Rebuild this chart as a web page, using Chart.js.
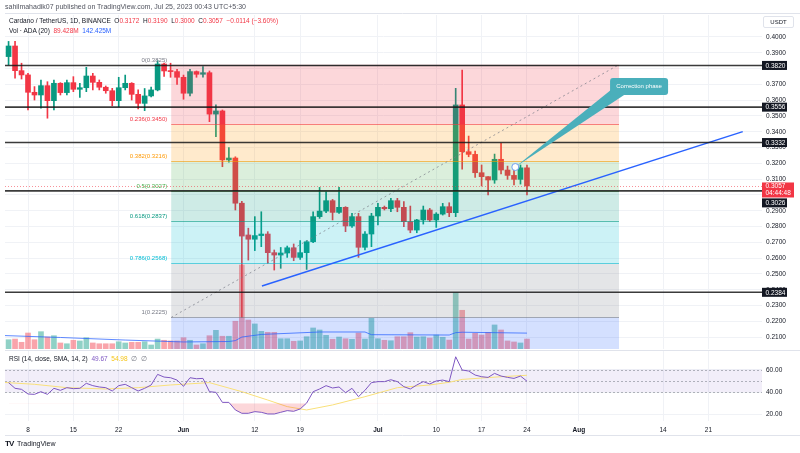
<!DOCTYPE html>
<html>
<head>
<meta charset="utf-8">
<script src="https://cdn.jsdelivr.net/npm/chart.js@4.4.0/dist/chart.umd.min.js"></script>
<style>
  body { margin: 0; background: #fff; }
  #wrap { position: relative; width: 800px; height: 453px; overflow: hidden; font-family: "Liberation Sans", Arial, sans-serif; }
  canvas { position: absolute; left: 0; }
  #cMain { top: 0; }
  #cRsi { top: 350px; }
  .t { position: absolute; white-space: nowrap; color: #131722; line-height: 1; }
  .red { color: #f23645; }
  .blue { color: #2962ff; }
  .purple { color: #7e57c2; }
  .yellow { color: #f5c518; }
  .grey { color: #787b86; }
  #usdt { position: absolute; left: 763px; top: 16px; width: 29px; height: 10px; border: 1px solid #e0e3eb; border-radius: 2px; font-size: 6px; color: #131722; text-align: center; line-height: 10px; background: #fff; }
</style>
</head>
<body>
<div id="wrap">
  <canvas id="cMain" width="800" height="350"></canvas>
  <canvas id="cRsi" width="800" height="103"></canvas>

  <div class="t" style="left:5px;top:3px;font-size:7px;color:#50535e">sahilmahadik07 published on TradingView.com, Jul 25, 2023 00:43 UTC+5:30</div>
  <div class="t" style="left:9px;top:18px;font-size:6.5px">Cardano / TetherUS, 1D, BINANCE&nbsp; O<span class="red">0.3172</span>&nbsp; H<span class="red">0.3190</span>&nbsp; L<span class="red">0.3000</span>&nbsp; C<span class="red">0.3057</span>&nbsp; <span class="red">−0.0114 (−3.60%)</span></div>
  <div class="t" style="left:9px;top:28px;font-size:6.5px">Vol · ADA (20)&nbsp; <span class="red">89.428M</span>&nbsp; <span class="blue">142.425M</span></div>
  <div id="usdt">USDT</div>
  <div class="t" style="left:9px;top:356px;font-size:6.5px">RSI (14, close, SMA, 14, 2)&nbsp; <span class="purple">49.67</span>&nbsp; <span class="yellow">54.98</span>&nbsp; <span class="grey">∅&nbsp; ∅</span></div>
  <div class="t" style="left:5px;top:440px;font-size:7px;color:#131722"><b style="font-size:8px;letter-spacing:-1px">TV</b>&nbsp; TradingView</div>
</div>

<script>
const FONT = '"Liberation Sans", Arial, sans-serif'
const GREEN = '#089981'
const RED = '#f23645'

// candles: May 5 (day -3) to Jul 24 (day 77), day 0 = May 8
const firstDay = -3
const opens = [
  0.3876, 0.3943, 0.3787, 0.3760, 0.3650, 0.3633, 0.3692, 0.3597, 0.3707, 0.3648,
  0.3711, 0.3669, 0.3679, 0.3753, 0.3713, 0.3682, 0.3660, 0.3597, 0.3679, 0.3707,
  0.3637, 0.3580, 0.3627, 0.3665, 0.3829, 0.3785, 0.3781, 0.3745, 0.3644, 0.3781,
  0.3764, 0.3774, 0.3512, 0.3532, 0.3222, 0.3234, 0.2948, 0.2747, 0.2720, 0.2743,
  0.2753, 0.2635, 0.2620, 0.2633, 0.2666, 0.2605, 0.2635, 0.2704, 0.2863, 0.2898,
  0.2964, 0.2890, 0.2922, 0.2804, 0.2863, 0.2669, 0.2753, 0.2867, 0.2922, 0.2913,
  0.2964, 0.2922, 0.2831, 0.2778, 0.2842, 0.2905, 0.2842, 0.2879, 0.2926, 0.2888,
  0.3570, 0.3274, 0.3257, 0.3141, 0.3116, 0.3095, 0.3226, 0.3158, 0.3124, 0.3099,
  0.3172
]
const highs = [
  0.3972, 0.3972, 0.3834, 0.3770, 0.3686, 0.3728, 0.3717, 0.3728, 0.3711, 0.3728,
  0.3749, 0.3707, 0.3808, 0.3770, 0.3728, 0.3690, 0.3675, 0.3745, 0.3759, 0.3711,
  0.3665, 0.3674, 0.3683, 0.3850, 0.3835, 0.3834, 0.3795, 0.3759, 0.3795, 0.3785,
  0.3812, 0.3785, 0.3570, 0.3538, 0.3300, 0.3242, 0.2960, 0.2790, 0.2863, 0.2894,
  0.2768, 0.2652, 0.2668, 0.2677, 0.2690, 0.2712, 0.2711, 0.2894, 0.3048, 0.3021,
  0.2972, 0.3048, 0.2926, 0.2884, 0.2884, 0.2768, 0.2884, 0.2947, 0.2930, 0.2979,
  0.2979, 0.2958, 0.2930, 0.2846, 0.2930, 0.2915, 0.2888, 0.2947, 0.2951, 0.3675,
  0.3791, 0.3373, 0.3278, 0.3190, 0.3116, 0.3259, 0.3327, 0.3183, 0.3162, 0.3190,
  0.3190
]
const lows = [
  0.3823, 0.3739, 0.3734, 0.3538, 0.3601, 0.3549, 0.3486, 0.3538, 0.3633, 0.3633,
  0.3654, 0.3618, 0.3654, 0.3665, 0.3665, 0.3644, 0.3565, 0.3559, 0.3665, 0.3601,
  0.3544, 0.3534, 0.3620, 0.3659, 0.3750, 0.3745, 0.3700, 0.3606, 0.3627, 0.3745,
  0.3745, 0.3464, 0.3369, 0.3179, 0.3208, 0.2905, 0.2225, 0.2588, 0.2648, 0.2673,
  0.2568, 0.2525, 0.2536, 0.2605, 0.2584, 0.2592, 0.2529, 0.2698, 0.2852, 0.2888,
  0.2842, 0.2884, 0.2768, 0.2795, 0.2605, 0.2652, 0.2673, 0.2810, 0.2905, 0.2894,
  0.2894, 0.2799, 0.2761, 0.2761, 0.2816, 0.2831, 0.2795, 0.2873, 0.2863, 0.2863,
  0.3163, 0.3242, 0.3112, 0.3057, 0.3000, 0.3074, 0.3133, 0.3099, 0.3063, 0.3069,
  0.3000
]
const closes = [
  0.3943, 0.3787, 0.3760, 0.3650, 0.3633, 0.3692, 0.3597, 0.3707, 0.3648, 0.3711,
  0.3669, 0.3679, 0.3753, 0.3713, 0.3682, 0.3660, 0.3597, 0.3679, 0.3707, 0.3637,
  0.3580, 0.3627, 0.3665, 0.3829, 0.3785, 0.3781, 0.3745, 0.3644, 0.3781, 0.3764,
  0.3774, 0.3512, 0.3532, 0.3222, 0.3234, 0.2948, 0.2740, 0.2720, 0.2743, 0.2753,
  0.2635, 0.2620, 0.2633, 0.2666, 0.2605, 0.2635, 0.2704, 0.2863, 0.2898, 0.2964,
  0.2890, 0.2922, 0.2804, 0.2863, 0.2669, 0.2753, 0.2867, 0.2922, 0.2913, 0.2964,
  0.2922, 0.2831, 0.2778, 0.2842, 0.2905, 0.2842, 0.2879, 0.2926, 0.2888, 0.3570,
  0.3274, 0.3257, 0.3141, 0.3116, 0.3095, 0.3226, 0.3158, 0.3124, 0.3099, 0.3172,
  0.3057
]
// volume in millions ADA
const volumes = [
  83, 89, 60, 143, 83, 155, 107, 119, 54, 47,
  78, 72, 101, 54, 47, 47, 47, 65, 54, 60,
  60, 65, 36, 89, 78, 72, 72, 101, 78, 36,
  47, 119, 167, 114, 114, 248, 751, 259, 224, 158,
  149, 149, 92, 92, 69, 72, 110, 188, 170, 122,
  87, 107, 92, 87, 143, 89, 274, 92, 78, 74,
  110, 110, 146, 107, 110, 98, 125, 105, 80, 503,
  346, 89, 140, 125, 149, 215, 170, 72, 63, 54,
  89
]
const volMaDays = [-4, 5, 15, 24, 31, 32, 33, 36, 45, 52, 53, 65, 66, 67, 77]
const volMaVals = [121, 103, 80, 63, 67, 75, 107, 130, 152, 152, 128, 125, 146, 150, 142]

const rsi = [
  48.4, 43.3, 42.4, 38.2, 37.9, 40.3, 37.9, 43.3, 41.5, 43.9,
  43.0, 43.3, 47.8, 45.7, 44.5, 43.9, 40.9, 45.7, 46.9, 43.9,
  40.9, 43.3, 46.3, 55.8, 53.4, 52.8, 50.7, 45.1, 52.8, 51.9,
  52.2, 40.3, 39.7, 30.7, 30.7, 23.9, 20.9, 20.9, 22.4, 21.8,
  20.3, 20.3, 21.8, 23.3, 22.7, 24.8, 30.1, 40.3, 42.7, 45.7,
  43.6, 44.5, 39.4, 43.3, 35.8, 41.5, 48.4, 49.3, 49.3, 51.0,
  49.3, 44.8, 42.7, 46.3, 49.3, 47.2, 49.9, 50.7, 49.3, 71.6,
  59.7, 58.8, 55.2, 53.7, 53.1, 56.7, 54.3, 53.1, 52.2, 54.3,
  49.7
]
const smaDays = [-4, 1, 6, 12, 17, 22, 28, 33, 37, 40, 43, 47, 52, 57, 62, 65, 67, 73, 77]
const smaVals = [48.7, 46.9, 43.9, 42.7, 43.9, 46.3, 48.4, 40.3, 32.8, 26.9, 23.9, 28.4, 35.8, 43.9, 46.3, 48.7, 51.3, 53.7, 55.0]

// time axis
const tickDays = [0, 7, 14, 24, 35, 42, 54, 63, 70, 77, 85, 98, 105]
const tickLabels = ['8', '15', '22', 'Jun', '12', '19', 'Jul', '10', '17', '24', 'Aug', '14', '21']
const monthLabels = ['Jun', 'Jul', 'Aug']
const priceTicks = [0.21, 0.22, 0.23, 0.24, 0.25, 0.26, 0.27, 0.28, 0.29, 0.30, 0.31, 0.32, 0.33, 0.34, 0.35, 0.36, 0.37, 0.38, 0.39, 0.40]
const rsiTicks = [20, 40, 60]
const rsiBand = [40, 50, 60]

// drawings
const hLines = [0.3820, 0.3556, 0.3332, 0.3026, 0.2384]
const lastPrice = 0.3057
const trendDays = [36.1, 110.3]
const trendVals = [0.2424, 0.3401]
const fibDays = [22.1, 91.2]
const fibLevels = ['0', '0.236', '0.382', '0.5', '0.618', '0.786', '1', '1.618']
const fibPrices = [0.3825, 0.3450, 0.3216, 0.3027, 0.2837, 0.2568, 0.2225, 0.1236]
const fibColors = [[120, 123, 134], [242, 54, 69], [255, 152, 0], [76, 175, 80], [8, 153, 129], [0, 188, 212], [120, 123, 134], [41, 98, 255]]
const calloutPoint = [75.2, 0.3177]
const calloutBox = [94.3, 0.3687]

const xMin = -3.55
const xMax = 113.27
const priceMin = 0.20253
const priceMax = 0.41392
const volMax = 2986
const rsiMin = 14.0
const rsiMax = 77.67

const days = opens.map((_, i) => firstDay + i)
const isUp = opens.map((o, i) => closes[i] >= o)
const rgba = (c, a) => `rgba(${c[0]},${c[1]},${c[2]},${a})`

function drawFib(chart) {
    const { ctx, chartArea: area } = chart
    const xs = chart.scales.x, ys = chart.scales.y
    const x0 = xs.getPixelForValue(fibDays[0]), x1 = xs.getPixelForValue(fibDays[1])
    ctx.save()
    for (let i = 1; i < fibPrices.length; i++) {
        const yTop = ys.getPixelForValue(fibPrices[i - 1])
        const yBot = Math.min(ys.getPixelForValue(fibPrices[i]), area.bottom)
        ctx.fillStyle = rgba(fibColors[i], 0.2)
        ctx.fillRect(x0, yTop, x1 - x0, yBot - yTop)
    }
    ctx.font = '6px ' + FONT
    ctx.textAlign = 'right'
    ctx.textBaseline = 'middle'
    for (let i = 0; i < fibPrices.length; i++) {
        const y = Math.round(ys.getPixelForValue(fibPrices[i])) + 0.5
        if (y > area.bottom) continue
        ctx.strokeStyle = rgba(fibColors[i], 0.6)
        ctx.lineWidth = 1
        ctx.beginPath(); ctx.moveTo(x0, y); ctx.lineTo(x1, y); ctx.stroke()
        ctx.fillStyle = rgba(fibColors[i], 1)
        ctx.fillText(fibLevels[i] + '(' + fibPrices[i].toFixed(4) + ')', x0 - 4, y - 5.5)
    }
    ctx.restore()
}

const mainPlugin = {
    id: 'mainOverlays',
    beforeDatasetDraw(chart, args) {
        if (chart.data.datasets[args.index].label === 'fibTrend') drawFib(chart)
    },
    afterDatasetsDraw(chart) {
        const { ctx, chartArea: area } = chart
        const xs = chart.scales.x, ys = chart.scales.y
        ctx.save()
        // current price line
        const yp = Math.round(ys.getPixelForValue(lastPrice)) + 0.5
        ctx.strokeStyle = 'rgba(242,54,69,0.55)'
        ctx.setLineDash([1, 2])
        ctx.beginPath(); ctx.moveTo(area.left, yp); ctx.lineTo(area.right, yp); ctx.stroke()
        ctx.setLineDash([])
        // horizontal levels
        ctx.strokeStyle = 'rgba(25,25,25,0.85)'
        ctx.lineWidth = 1.6
        hLines.forEach(v => {
            const y = ys.getPixelForValue(v)
            ctx.beginPath(); ctx.moveTo(area.left, y); ctx.lineTo(area.right, y); ctx.stroke()
        })
        // callout
        const ax = xs.getPixelForValue(calloutPoint[0]), ay = ys.getPixelForValue(calloutPoint[1])
        const bx = xs.getPixelForValue(calloutBox[0]), by = ys.getPixelForValue(calloutBox[1])
        const w = 58, h = 17, left = bx - w / 2, top = by - h / 2
        ctx.fillStyle = '#4aafbb'
        ctx.beginPath()
        ctx.moveTo(ax, ay)
        ctx.lineTo(left + 2, top + h - 6)
        ctx.lineTo(left + 14, top + h)
        ctx.closePath(); ctx.fill()
        ctx.beginPath(); ctx.roundRect(left, top, w, h, 3); ctx.fill()
        ctx.fillStyle = '#fff'
        ctx.font = '6px ' + FONT
        ctx.textAlign = 'center'; ctx.textBaseline = 'middle'
        ctx.fillText('Correction phase', bx, by)
        ctx.beginPath(); ctx.arc(ax, ay, 3.5, 0, Math.PI * 2)
        ctx.fillStyle = '#fff'; ctx.fill()
        ctx.strokeStyle = '#6fa0f0'; ctx.lineWidth = 1; ctx.stroke()
        ctx.restore()
    },
    afterDraw(chart) {
        const { ctx, chartArea: area } = chart
        const ys = chart.scales.y
        ctx.save()
        ctx.strokeStyle = '#e0e3eb'; ctx.lineWidth = 1
        ctx.beginPath(); ctx.moveTo(area.left, 13.5); ctx.lineTo(800, 13.5); ctx.stroke()
        ctx.font = '6.5px ' + FONT
        ctx.textAlign = 'left'; ctx.textBaseline = 'middle'
        // price tags of the levels
        hLines.forEach(v => {
            let y = ys.getPixelForValue(v)
            if (v === 0.3026) y += 12
            ctx.fillStyle = '#131722'
            ctx.fillRect(area.right, y - 4.5, 25, 9)
            ctx.fillStyle = '#fff'
            ctx.fillText(v.toFixed(4), area.right + 3.5, y + 0.5)
        })
        // last price tag
        const yc = ys.getPixelForValue(lastPrice)
        ctx.fillStyle = RED
        ctx.fillRect(area.right, yc - 3.5, 32, 15)
        ctx.fillStyle = '#fff'
        ctx.fillText(lastPrice.toFixed(4), area.right + 3.5, yc + 0.5)
        ctx.fillText('04:44:48', area.right + 3.5, yc + 7.5)
        ctx.restore()
    }
}

new Chart(document.getElementById('cMain'), {
    type: 'bar',
    data: {
        datasets: [
            {
                label: 'wick',
                data: days.map((d, i) => ({ x: d, y: [lows[i], highs[i]] })),
                backgroundColor: isUp.map(u => u ? GREEN : RED),
                barThickness: 1, grouped: false, minBarLength: 1, order: 40
            },
            {
                label: 'body',
                data: days.map((d, i) => ({ x: d, y: [Math.min(opens[i], closes[i]), Math.max(opens[i], closes[i])] })),
                backgroundColor: isUp.map(u => u ? GREEN : RED),
                barThickness: 5, grouped: false, minBarLength: 1, order: 30
            },
            {
                label: 'volume',
                yAxisID: 'yv',
                data: days.map((d, i) => ({ x: d, y: volumes[i] })),
                backgroundColor: isUp.map(u => u ? 'rgba(8,153,129,0.45)' : 'rgba(242,54,69,0.45)'),
                barThickness: 5, grouped: false, order: 60
            },
            {
                type: 'line', label: 'volMA', yAxisID: 'yv',
                data: volMaDays.map((d, i) => ({ x: d, y: volMaVals[i] })),
                borderColor: 'rgba(41,98,255,0.75)', borderWidth: 1, pointRadius: 0, order: 50
            },
            {
                type: 'line', label: 'fibTrend',
                data: [{ x: fibDays[0], y: fibPrices[6] }, { x: fibDays[1], y: fibPrices[0] }],
                borderColor: 'rgba(120,123,134,0.7)', borderDash: [2, 3], borderWidth: 1, pointRadius: 0, order: 20
            },
            {
                type: 'line', label: 'trend',
                data: trendDays.map((d, i) => ({ x: d, y: trendVals[i] })),
                borderColor: '#2962ff', borderWidth: 1.5, pointRadius: 0, order: 10
            }
        ]
    },
    options: {
        responsive: false,
        animation: false,
        layout: { padding: { top: 15, left: 5, right: 0, bottom: 1 } },
        plugins: { legend: { display: false }, tooltip: { enabled: false } },
        scales: {
            x: {
                type: 'linear', min: xMin, max: xMax, offset: false,
                grid: { color: '#f0f2f6', drawTicks: false, offset: false },
                border: { display: false },
                ticks: { display: false },
                afterBuildTicks: s => { s.ticks = tickDays.map(v => ({ value: v })) },
                afterFit: s => { s.height = 0; s.paddingLeft = 0; s.paddingRight = 0 }
            },
            y: {
                position: 'right', min: priceMin, max: priceMax,
                grid: { color: '#f0f2f6', drawTicks: false },
                border: { display: false },
                ticks: { padding: 4, color: '#131722', font: { size: 6.5, family: FONT }, callback: v => v.toFixed(4) },
                afterBuildTicks: s => { s.ticks = priceTicks.map(v => ({ value: v })) },
                afterFit: s => { s.width = 38; s.paddingTop = 0; s.paddingBottom = 0 }
            },
            yv: { display: false, min: 0, max: volMax }
        }
    },
    plugins: [mainPlugin]
})

const rsiPlugin = {
    id: 'rsiOverlays',
    beforeDatasetsDraw(chart) {
        const { ctx, chartArea: area } = chart
        const ys = chart.scales.y
        const yHi = ys.getPixelForValue(rsiBand[2]), yLo = ys.getPixelForValue(rsiBand[0])
        ctx.save()
        ctx.fillStyle = 'rgba(126,87,194,0.1)'
        ctx.fillRect(area.left, yHi, area.width, yLo - yHi)
        ctx.strokeStyle = 'rgba(120,123,134,0.55)'
        ctx.setLineDash([2, 2])
        rsiBand.forEach(v => {
            const y = Math.round(ys.getPixelForValue(v)) + 0.5
            ctx.beginPath(); ctx.moveTo(area.left, y); ctx.lineTo(area.right, y); ctx.stroke()
        })
        ctx.restore()
    },
    afterDraw(chart) {
        const { ctx, chartArea: area } = chart
        ctx.save()
        ctx.strokeStyle = '#e0e3eb'; ctx.lineWidth = 1
        ctx.beginPath(); ctx.moveTo(area.left, 0.5); ctx.lineTo(800, 0.5); ctx.stroke()
        ctx.beginPath(); ctx.moveTo(area.left, 85.5); ctx.lineTo(800, 85.5); ctx.stroke()
        ctx.restore()
    }
}

new Chart(document.getElementById('cRsi'), {
    type: 'line',
    data: {
        datasets: [
            {
                label: 'RSI',
                data: days.map((d, i) => ({ x: d, y: rsi[i] })),
                borderColor: '#7e57c2', borderWidth: 1, pointRadius: 0,
                fill: { target: { value: 30 }, above: 'rgba(0,0,0,0)', below: 'rgba(242,54,69,0.2)' },
                order: 1
            },
            {
                label: 'SMA',
                data: smaDays.map((d, i) => ({ x: d, y: smaVals[i] })),
                borderColor: '#f9e07a', borderWidth: 1, pointRadius: 0, order: 2
            }
        ]
    },
    options: {
        responsive: false,
        animation: false,
        layout: { padding: { top: 0, left: 5, right: 0, bottom: 0 } },
        plugins: { legend: { display: false }, tooltip: { enabled: false } },
        scales: {
            x: {
                type: 'linear', min: xMin, max: xMax,
                grid: { color: '#f0f2f6', drawTicks: false },
                border: { display: false },
                ticks: {
                    padding: 5, color: '#131722', maxRotation: 0, autoSkip: false,
                    font: c => ({ size: 6.5, family: FONT, weight: monthLabels.includes(tickLabels[tickDays.indexOf(c.tick ? c.tick.value : -99)]) ? 'bold' : 'normal' }),
                    callback: v => tickLabels[tickDays.indexOf(v)]
                },
                afterBuildTicks: s => { s.ticks = tickDays.map(v => ({ value: v })) },
                afterFit: s => { s.height = 32; s.paddingLeft = 0; s.paddingRight = 0 }
            },
            y: {
                position: 'right', min: rsiMin, max: rsiMax,
                grid: { color: '#f0f2f6', drawTicks: false },
                border: { display: false },
                ticks: { padding: 4, color: '#131722', font: { size: 6.5, family: FONT }, callback: v => v.toFixed(2) },
                afterBuildTicks: s => { s.ticks = rsiTicks.map(v => ({ value: v })) },
                afterFit: s => { s.width = 38; s.paddingTop = 0; s.paddingBottom = 0 }
            }
        }
    },
    plugins: [rsiPlugin]
})
</script>
</body>
</html>
